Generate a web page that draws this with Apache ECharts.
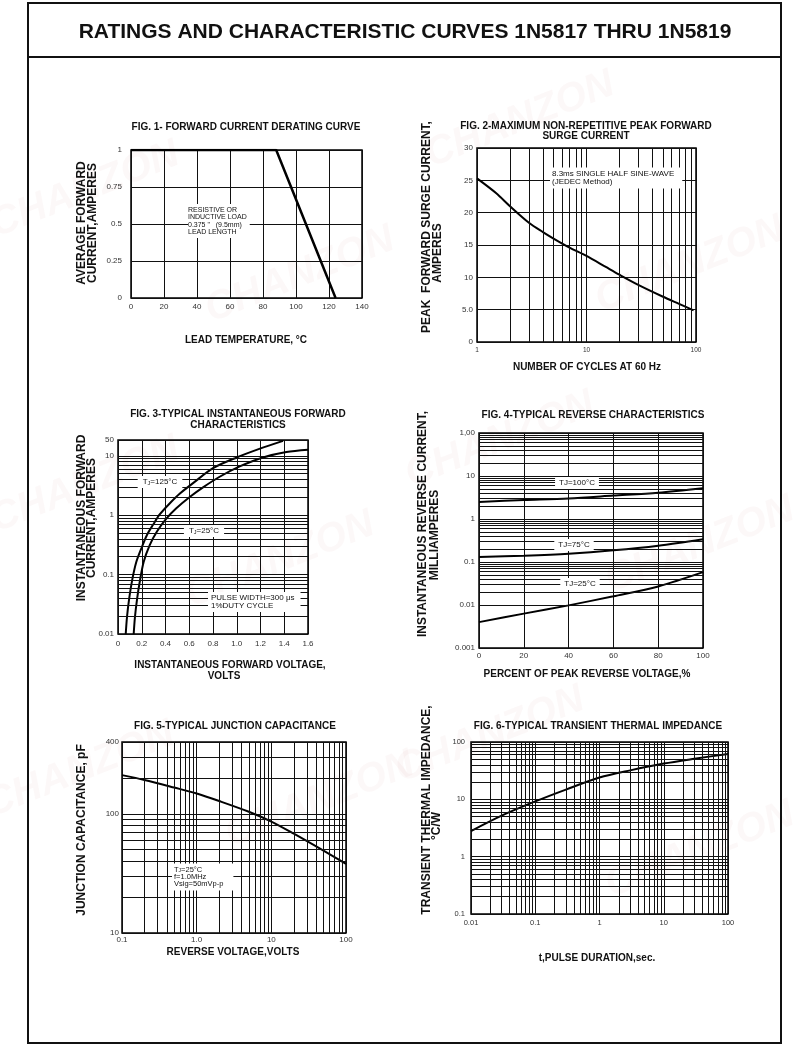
<!DOCTYPE html>
<html>
<head>
<meta charset="utf-8">
<title>1N5817 THRU 1N5819 curves</title>
<script src="https://cdn.jsdelivr.net/npm/echarts@6/dist/echarts.min.js"></script>
<style>
  html, body { margin: 0; padding: 0; background: #fff; }
  #page { width: 800px; height: 1048px; }
</style>
</head>
<body>
<div id="page"></div>
<script>
// ---- data ----
// fig 1 forward current derating
const derateTemp = [0, 88, 124];
const derateAmps = [1, 1, 0];

// fig 2 peak surge current
const surgeCycles = [1, 1.5, 2, 3, 4, 5, 7, 10, 15, 20, 30, 50, 70, 95];
const surgeAmps = [25.3, 23, 21, 18.4, 17, 16, 14.6, 13.3, 11.6, 10.4, 8.8, 7, 5.9, 4.9];
const surgeYLabels = ['0', '5.0', '10', '15', '20', '25', '30'];
const surgeXLabels = ['1', '10', '100'];

// fig 3 forward characteristics
const vf125 = [0.065, 0.076, 0.093, 0.121, 0.154, 0.196, 0.244, 0.295, 0.351, 0.435, 0.519, 0.632, 0.8, 1.0, 1.19, 1.39];
const if125 = [0.01, 0.0195, 0.038, 0.084, 0.163, 0.275, 0.466, 0.69, 1.03, 1.58, 2.3, 3.47, 6.2, 9.4, 13.1, 17.9];
const vf25 = [0.132, 0.143, 0.16, 0.182, 0.216, 0.267, 0.328, 0.407, 0.491, 0.604, 0.716, 0.856, 1.025, 1.221, 1.418, 1.6];
const if25 = [0.01, 0.0195, 0.038, 0.0736, 0.163, 0.314, 0.532, 0.877, 1.31, 2.03, 2.95, 4.45, 6.64, 9.4, 11.6, 12.7];
const fwdXLabels = ['0', '0.2', '0.4', '0.6', '0.8', '1.0', '1.2', '1.4', '1.6'];
const fwdYLabels = ['0.01', '0.1', '1', '10', '50'];
const fwdYTop = 18.5; // top gridline, printed "50" on the sheet

// fig 4 reverse characteristics
const revPct = [0, 20, 40, 60, 80, 100];
const ir100 = [2.5, 2.75, 3.0, 3.5, 4.1, 5.2];
const ir75 = [0.13, 0.14, 0.156, 0.187, 0.24, 0.34];
const ir25 = [0.004, 0.0063, 0.0098, 0.016, 0.027, 0.058];
const revYLabels = ['0.001', '0.01', '0.1', '1', '10', '1,00'];

// fig 5 junction capacitance
const capVolts = [0.1, 0.2, 0.5, 1, 2, 5, 10, 20, 50, 100];
const capPf = [211, 192, 166, 148, 128, 104, 86, 68, 49, 38];
const capXLabels = ['0.1', '1.0', '10', '100'];
const capYLabels = ['10', '100', '400'];

// fig 6 transient thermal impedance
const pulseSec = [0.01, 0.03, 0.1, 0.3, 1, 3, 10, 30, 100];
const zthCW = [2.8, 5.2, 9.2, 14.8, 24, 32, 42, 51, 62];
const pulseXLabels = ['0.01', '0.1', '1', '10', '100'];
const zthYLabels = ['0.1', '1', '10', '100'];

// ---- helpers ----
const FONT = '"Liberation Sans", Arial, Helvetica, sans-serif';
const INK = '#111';

const zip = (xs, ys) => xs.map((x, i) => [x, ys[i]]);

// 2..9 lines inside each decade
function logMinors(lo, hi) {
  const out = [];
  for (let e = Math.floor(Math.log10(lo)); e < Math.ceil(Math.log10(hi)); e++) {
    for (let m = 2; m <= 9; m++) {
      const v = +(m * Math.pow(10, e)).toPrecision(3);
      if (v > lo && v < hi) out.push(v);
    }
  }
  return out;
}

function gridLines(xs, ys) {
  return {
    silent: true,
    symbol: ['none', 'none'],
    label: { show: false },
    lineStyle: { color: INK, width: 1, type: 'solid' },
    emphasis: { disabled: true },
    animation: false,
    data: xs.map(v => ({ xAxis: v })).concat(ys.map(v => ({ yAxis: v })))
  };
}

function lab(margin, labels, size) {
  const o = { color: '#333', fontSize: size || 8, fontFamily: FONT, margin: margin, showMinLabel: true, showMaxLabel: true };
  if (labels) o.formatter = (v, i) => (labels[i] !== undefined ? labels[i] : '');
  return o;
}

function axis(gi, type, min, max, label, interval) {
  const a = {
    gridIndex: gi, type: type, min: min, max: max,
    axisLine: { show: false }, axisTick: { show: false },
    splitLine: { show: true, lineStyle: { color: INK, width: 1 } },
    axisLabel: label
  };
  if (interval) a.interval = interval;
  return a;
}

function curve(xi, data, width, marks, smooth) {
  const s = {
    type: 'line', xAxisIndex: xi, yAxisIndex: xi, data: data,
    showSymbol: false, silent: true, animation: false,
    smooth: smooth === false ? false : 0.3,
    lineStyle: { color: '#000', width: width }
  };
  if (marks) s.markLine = marks;
  return s;
}

function txt(text, x, y, size, o) {
  o = o || {};
  const align = o.align || 'center';
  return {
    type: 'text', x: x, y: y, z: o.z === undefined ? 50 : o.z, silent: true,
    rotation: o.rot || 0,
    style: Object.assign({
      text: text,
      font: (o.weight || 'normal') + ' ' + size + 'px ' + FONT,
      fill: o.color || INK,
      align: align, textAlign: align,
      verticalAlign: 'middle', textVerticalAlign: 'middle',
      lineHeight: o.lh || size
    }, o.style || {})
  };
}

// "T" with a small J subscript
function tj(rest, x, y) {
  return {
    type: 'text', x: x, y: y, z: 50, silent: true,
    style: {
      text: '{n|T}{s|J}{n|' + rest + '}',
      align: 'center', textAlign: 'center',
      verticalAlign: 'middle', textVerticalAlign: 'middle',
      backgroundColor: '#fff', padding: [2, 5],
      rich: {
        n: { fontSize: 8, fontFamily: FONT, fill: INK, color: INK },
        s: { fontSize: 5.5, fontFamily: FONT, fill: INK, color: INK, verticalAlign: 'bottom' }
      }
    }
  };
}

const UP = Math.PI / 2;
const box = { backgroundColor: '#fff', padding: [2, 4] };
const water = 'rgba(215,150,150,0.07)';

function mark(x, y) {
  return txt('CHANZON', x, y, 40, { rot: 0.38, weight: 'italic bold', color: water, z: -5 });
}

function title(text, cx, top, size, lh) {
  return {
    text: text, left: cx, top: top, textAlign: 'center', padding: 0,
    textStyle: { fontFamily: FONT, fontWeight: 'bold', fontSize: size, color: INK, lineHeight: lh || size }
  };
}

const gridBox = { show: true, borderColor: '#000', borderWidth: 1.5, backgroundColor: 'transparent', containLabel: false };

const option = {
  backgroundColor: '#fff',
  animation: false,
  title: [
    title('RATINGS AND CHARACTERISTIC CURVES 1N5817 THRU 1N5819', 405, 22, 21),
    title('FIG. 1- FORWARD CURRENT DERATING CURVE', 246, 122, 10),
    title('FIG. 2-MAXIMUM NON-REPETITIVE PEAK FORWARD\nSURGE CURRENT', 586, 121, 10, 10),
    title('FIG. 3-TYPICAL INSTANTANEOUS FORWARD\nCHARACTERISTICS', 238, 409, 10, 10.5),
    title('FIG. 4-TYPICAL REVERSE CHARACTERISTICS', 593, 410, 10),
    title('FIG. 5-TYPICAL JUNCTION CAPACITANCE', 235, 721, 10),
    title('FIG. 6-TYPICAL TRANSIENT THERMAL IMPEDANCE', 598, 721, 10)
  ],
  grid: [
    Object.assign({ left: 131, top: 150, width: 231, height: 148 }, gridBox),
    Object.assign({ left: 477, top: 148, width: 219, height: 194 }, gridBox),
    Object.assign({ left: 118, top: 440, width: 190, height: 194 }, gridBox),
    Object.assign({ left: 479, top: 433, width: 224, height: 215 }, gridBox),
    Object.assign({ left: 122, top: 742, width: 224, height: 191 }, gridBox),
    Object.assign({ left: 471, top: 742, width: 257, height: 172 }, gridBox)
  ],
  xAxis: [
    axis(0, 'value', 0, 140, lab(5), 20),
    axis(1, 'log', 1, 100, lab(5, surgeXLabels, 6.5)),
    axis(2, 'value', 0, 1.6, lab(6, fwdXLabels), 0.2),
    axis(3, 'value', 0, 100, lab(4), 20),
    axis(4, 'log', 0.1, 100, lab(3, capXLabels)),
    axis(5, 'log', 0.01, 100, lab(5, pulseXLabels, 7.5))
  ],
  yAxis: [
    axis(0, 'value', 0, 1, lab(9), 0.25),
    axis(1, 'value', 0, 30, lab(4, surgeYLabels), 5),
    axis(2, 'log', 0.01, fwdYTop, lab(4, fwdYLabels)),
    axis(3, 'log', 0.001, 100, lab(4, revYLabels)),
    axis(4, 'log', 10, 400, lab(3, capYLabels)),
    axis(5, 'log', 0.1, 100, lab(6, zthYLabels, 7.5))
  ],
  series: [
    curve(0, zip(derateTemp, derateAmps), 2.5, null, false),
    curve(1, zip(surgeCycles, surgeAmps), 2, gridLines(logMinors(1, 100), [])),
    curve(2, zip(vf125, if125), 2, gridLines([], logMinors(0.01, fwdYTop))),
    curve(2, zip(vf25, if25), 2),
    curve(3, zip(revPct, ir100), 2, gridLines([], logMinors(0.001, 100))),
    curve(3, zip(revPct, ir75), 2),
    curve(3, zip(revPct, ir25), 2),
    curve(4, zip(capVolts, capPf), 2, gridLines(logMinors(0.1, 100), logMinors(10, 400))),
    curve(5, zip(pulseSec, zthCW), 2, gridLines(logMinors(0.01, 100), logMinors(0.1, 100)))
  ],
  graphic: [
    // page frame
    { type: 'rect', z: 60, silent: true, shape: { x: 28, y: 3, width: 753, height: 1040 }, style: { fill: 'none', stroke: INK, lineWidth: 2 } },
    { type: 'line', z: 60, silent: true, shape: { x1: 28, y1: 57, x2: 781, y2: 57 }, style: { stroke: INK, lineWidth: 2 } },

    // faint watermark
    mark(85, 190), mark(300, 275), mark(520, 120), mark(690, 265),
    mark(85, 485), mark(280, 560), mark(500, 440), mark(700, 545),
    mark(80, 770), mark(320, 800), mark(490, 735), mark(700, 850),

    // fig 1
    txt('AVERAGE FORWARD', 82, 223, 12, { rot: UP, weight: 'bold' }),
    txt('CURRENT,AMPERES', 93, 223, 12, { rot: UP, weight: 'bold' }),
    txt('LEAD TEMPERATURE, °C', 246, 340, 10, { weight: 'bold' }),
    txt('RESISTIVE OR\nINDUCTIVE LOAD\n0.375 "   (9.5mm)\nLEAD LENGTH', 188, 221, 7,
      { align: 'left', lh: 7.5, style: { backgroundColor: '#fff', padding: [2, 3, 2, 0] } }),

    // fig 2
    txt('PEAK  FORWARD SURGE CURRENT,', 427, 227, 12, { rot: UP, weight: 'bold' }),
    txt('AMPERES', 438, 253, 12, { rot: UP, weight: 'bold' }),
    txt('NUMBER OF CYCLES AT 60 Hz', 587, 367, 10, { weight: 'bold' }),
    txt('8.3ms SINGLE HALF SINE-WAVE\n(JEDEC Method)', 550, 178, 8,
      { align: 'left', lh: 8.5, style: { backgroundColor: '#fff', padding: [2, 8, 2, 2] } }),

    // fig 3
    txt('INSTANTANEOUS FORWARD', 82, 518, 12, { rot: UP, weight: 'bold' }),
    txt('CURRENT,AMPERES', 92, 518, 12, { rot: UP, weight: 'bold' }),
    txt('INSTANTANEOUS FORWARD VOLTAGE,', 230, 665, 10, { weight: 'bold' }),
    txt('VOLTS', 224, 676, 10, { weight: 'bold' }),
    tj('=125°C', 160, 482),
    tj('=25°C', 204, 531),
    txt('PULSE WIDTH=300 μs\n1%DUTY CYCLE', 208, 602, 8,
      { align: 'left', lh: 8, style: { backgroundColor: '#fff', padding: [2, 6, 2, 3] } }),

    // fig 4
    txt('INSTANTANEOUS REVERSE CURRENT,', 423, 524, 12, { rot: UP, weight: 'bold' }),
    txt('MILLIAMPERES', 435, 535, 12, { rot: UP, weight: 'bold' }),
    txt('PERCENT OF PEAK REVERSE VOLTAGE,%', 587, 674, 10, { weight: 'bold' }),
    txt('TJ=100°C', 577, 483, 8, { style: box }),
    txt('TJ=75°C', 574, 545, 8, { style: box }),
    txt('TJ=25°C', 580, 584, 8, { style: box }),

    // fig 5
    txt('JUNCTION CAPACITANCE, pF', 82, 830, 12, { rot: UP, weight: 'bold' }),
    txt('REVERSE VOLTAGE,VOLTS', 233, 952, 10, { weight: 'bold' }),
    {
      type: 'text', x: 172, y: 877, z: 50, silent: true,
      style: {
        text: '{n|T}{s|J}{n|=25°C}\n{n|f=1.0MHz}\n{n|Vsig=50mVp-p}',
        align: 'left', textAlign: 'left', verticalAlign: 'middle', textVerticalAlign: 'middle',
        backgroundColor: '#fff', padding: [3, 10, 3, 2],
        rich: {
          n: { fontSize: 7.5, fontFamily: FONT, fill: INK, color: INK, lineHeight: 7 },
          s: { fontSize: 5, fontFamily: FONT, fill: INK, color: INK, verticalAlign: 'bottom', lineHeight: 7 }
        }
      }
    },

    // fig 6
    txt('TRANSIENT THERMAL IMPEDANCE,', 427, 810, 12, { rot: UP, weight: 'bold' }),
    txt('°C/W', 437, 826, 12, { rot: UP, weight: 'bold' }),
    txt('t,PULSE DURATION,sec.', 597, 958, 10, { weight: 'bold' })
  ]
};

const chart = echarts.init(document.getElementById('page'), null, { renderer: 'canvas' });
chart.setOption(option);
</script>
</body>
</html>
